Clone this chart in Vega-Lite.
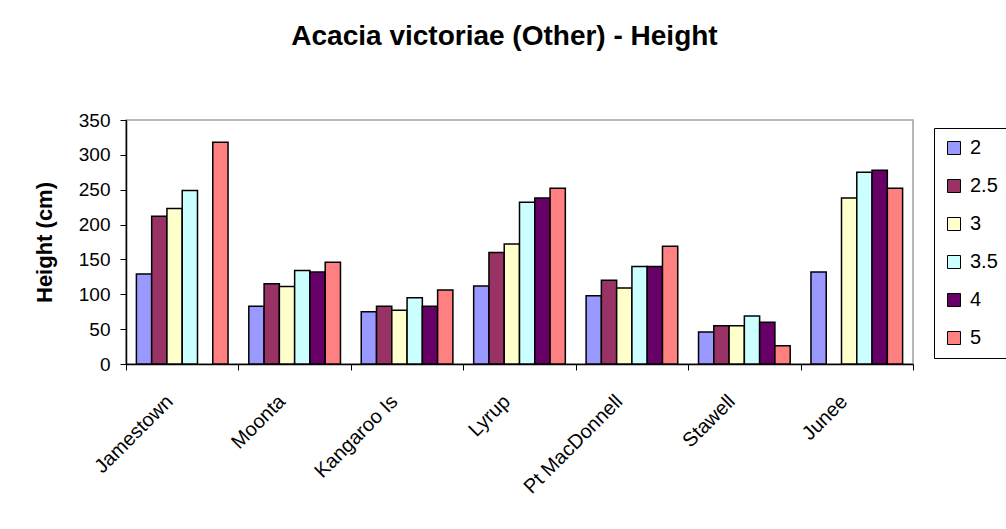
{
  "$schema": "https://vega.github.io/schema/vega-lite/v6.json",
  "width": 787,
  "height": 244,
  "autosize": {"type": "none"},
  "padding": {"left": 126, "top": 120, "right": 93, "bottom": 165},
  "background": "white",
  "config": {
    "font": "Liberation Sans",
    "view": {"stroke": "#a0a0a0", "strokeWidth": 1.5}
  },
  "title": {
    "text": "Acacia victoriae (Other) - Height",
    "fontSize": 28,
    "fontWeight": "bold",
    "font": "Liberation Sans",
    "color": "black",
    "anchor": "middle",
    "offset": 60,
    "dx": -15
  },
  "data": {
    "values": [
      {"site": "Jamestown", "cls": "2", "height": 129},
      {"site": "Jamestown", "cls": "2.5", "height": 212},
      {"site": "Jamestown", "cls": "3", "height": 223},
      {"site": "Jamestown", "cls": "3.5", "height": 249},
      {"site": "Jamestown", "cls": "5", "height": 318},
      {"site": "Moonta", "cls": "2", "height": 83},
      {"site": "Moonta", "cls": "2.5", "height": 115},
      {"site": "Moonta", "cls": "3", "height": 111},
      {"site": "Moonta", "cls": "3.5", "height": 134},
      {"site": "Moonta", "cls": "4", "height": 132},
      {"site": "Moonta", "cls": "5", "height": 146},
      {"site": "Kangaroo Is", "cls": "2", "height": 75},
      {"site": "Kangaroo Is", "cls": "2.5", "height": 83},
      {"site": "Kangaroo Is", "cls": "3", "height": 77},
      {"site": "Kangaroo Is", "cls": "3.5", "height": 95},
      {"site": "Kangaroo Is", "cls": "4", "height": 83},
      {"site": "Kangaroo Is", "cls": "5", "height": 106},
      {"site": "Lyrup", "cls": "2", "height": 112},
      {"site": "Lyrup", "cls": "2.5", "height": 160},
      {"site": "Lyrup", "cls": "3", "height": 172},
      {"site": "Lyrup", "cls": "3.5", "height": 232},
      {"site": "Lyrup", "cls": "4", "height": 238},
      {"site": "Lyrup", "cls": "5", "height": 252},
      {"site": "Pt MacDonnell", "cls": "2", "height": 98},
      {"site": "Pt MacDonnell", "cls": "2.5", "height": 120},
      {"site": "Pt MacDonnell", "cls": "3", "height": 109},
      {"site": "Pt MacDonnell", "cls": "3.5", "height": 140},
      {"site": "Pt MacDonnell", "cls": "4", "height": 140},
      {"site": "Pt MacDonnell", "cls": "5", "height": 169},
      {"site": "Stawell", "cls": "2", "height": 46},
      {"site": "Stawell", "cls": "2.5", "height": 55},
      {"site": "Stawell", "cls": "3", "height": 55},
      {"site": "Stawell", "cls": "3.5", "height": 69},
      {"site": "Stawell", "cls": "4", "height": 60},
      {"site": "Stawell", "cls": "5", "height": 26},
      {"site": "Junee", "cls": "2", "height": 132},
      {"site": "Junee", "cls": "3", "height": 238},
      {"site": "Junee", "cls": "3.5", "height": 275},
      {"site": "Junee", "cls": "4", "height": 278},
      {"site": "Junee", "cls": "5", "height": 252}
    ]
  },
  "mark": {"type": "bar", "stroke": "black", "strokeWidth": 1.5},
  "encoding": {
    "x": {
      "field": "site",
      "type": "nominal",
      "sort": ["Jamestown", "Moonta", "Kangaroo Is", "Lyrup", "Pt MacDonnell", "Stawell", "Junee"],
      "scale": {"paddingInner": 0, "paddingOuter": 0},
      "axis": {
        "title": null,
        "labelAngle": -45,
        "labelAlign": "right",
        "labelBaseline": "top",
        "labelFontSize": 20,
        "labelColor": "black",
        "labelPadding": 21,
        "labelOffset": -20,
        "tickBand": "extent",
        "tickSize": 6,
        "tickColor": "black",
        "domainColor": "black",
        "domainWidth": 1.5
      }
    },
    "xOffset": {
      "field": "cls",
      "type": "nominal",
      "scale": {"domain": ["2", "2.5", "3", "3.5", "4", "5"], "paddingInner": 0, "paddingOuter": 0.68}
    },
    "y": {
      "field": "height",
      "type": "quantitative",
      "scale": {"domain": [0, 350], "nice": false},
      "axis": {
        "title": "Height (cm)",
        "titleFontSize": 22,
        "titleFontWeight": "bold",
        "titleColor": "black",
        "titlePadding": 22,
        "values": [0, 50, 100, 150, 200, 250, 300, 350],
        "grid": false,
        "labelFontSize": 19,
        "labelColor": "black",
        "labelPadding": 10,
        "tickSize": 6,
        "tickColor": "black",
        "domainColor": "black",
        "domainWidth": 1.5
      }
    },
    "color": {
      "field": "cls",
      "type": "nominal",
      "scale": {
        "domain": ["2", "2.5", "3", "3.5", "4", "5"],
        "range": ["#9999FF", "#993366", "#FFFFCC", "#CCFFFF", "#660066", "#FF8080"]
      },
      "legend": {
        "title": null,
        "orient": "none",
        "legendX": 808,
        "legendY": 8,
        "padding": 10,
        "strokeColor": "black",
        "fillColor": "white",
        "symbolType": "square",
        "symbolSize": 169,
        "symbolStrokeColor": "black",
        "symbolStrokeWidth": 1,
        "symbolOpacity": 1,
        "labelFontSize": 20,
        "labelColor": "black",
        "labelOffset": 6,
        "rowPadding": 18
      }
    }
  }
}
